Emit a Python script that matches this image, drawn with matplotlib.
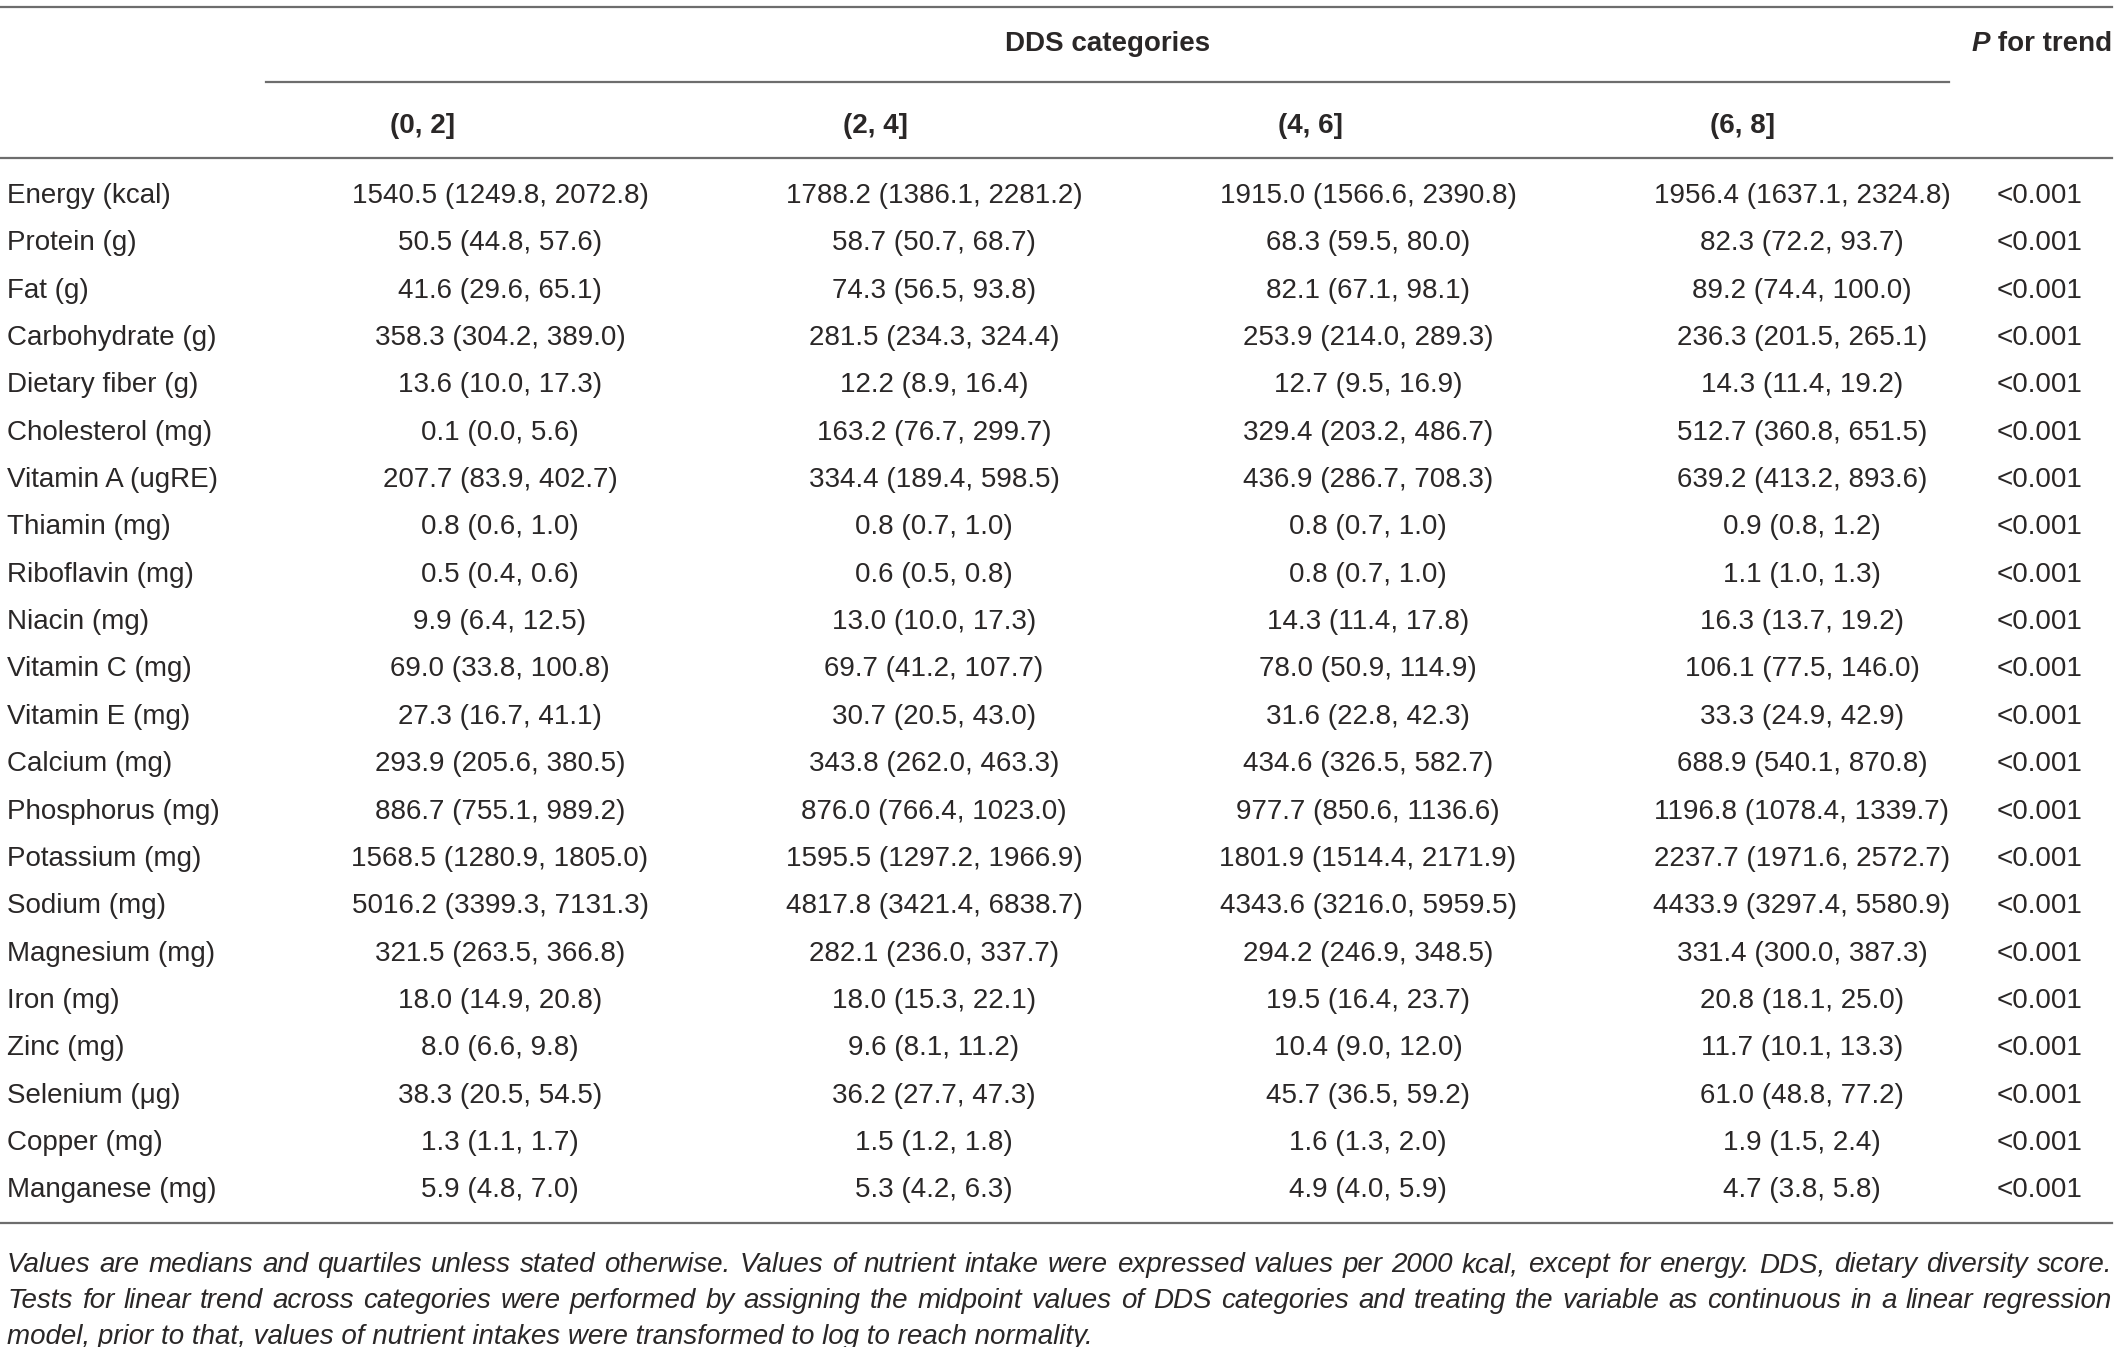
import matplotlib
matplotlib.use("Agg")
import matplotlib.pyplot as plt

plt.rcParams['font.family'] = ['Liberation Sans', 'DejaVu Sans']

nutrients = ["Energy (kcal)", "Protein (g)", "Fat (g)", "Carbohydrate (g)", "Dietary fiber (g)",
             "Cholesterol (mg)", "Vitamin A (ugRE)", "Thiamin (mg)", "Riboflavin (mg)", "Niacin (mg)",
             "Vitamin C (mg)", "Vitamin E (mg)", "Calcium (mg)", "Phosphorus (mg)", "Potassium (mg)",
             "Sodium (mg)", "Magnesium (mg)", "Iron (mg)", "Zinc (mg)", "Selenium (\u03bcg)",
             "Copper (mg)", "Manganese (mg)"]

categories = ["(0, 2]", "(2, 4]", "(4, 6]", "(6, 8]"]

dds_0_2 = ["1540.5 (1249.8, 2072.8)", "50.5 (44.8, 57.6)", "41.6 (29.6, 65.1)", "358.3 (304.2, 389.0)",
           "13.6 (10.0, 17.3)", "0.1 (0.0, 5.6)", "207.7 (83.9, 402.7)", "0.8 (0.6, 1.0)",
           "0.5 (0.4, 0.6)", "9.9 (6.4, 12.5)", "69.0 (33.8, 100.8)", "27.3 (16.7, 41.1)",
           "293.9 (205.6, 380.5)", "886.7 (755.1, 989.2)", "1568.5 (1280.9, 1805.0)",
           "5016.2 (3399.3, 7131.3)", "321.5 (263.5, 366.8)", "18.0 (14.9, 20.8)", "8.0 (6.6, 9.8)",
           "38.3 (20.5, 54.5)", "1.3 (1.1, 1.7)", "5.9 (4.8, 7.0)"]
dds_2_4 = ["1788.2 (1386.1, 2281.2)", "58.7 (50.7, 68.7)", "74.3 (56.5, 93.8)", "281.5 (234.3, 324.4)",
           "12.2 (8.9, 16.4)", "163.2 (76.7, 299.7)", "334.4 (189.4, 598.5)", "0.8 (0.7, 1.0)",
           "0.6 (0.5, 0.8)", "13.0 (10.0, 17.3)", "69.7 (41.2, 107.7)", "30.7 (20.5, 43.0)",
           "343.8 (262.0, 463.3)", "876.0 (766.4, 1023.0)", "1595.5 (1297.2, 1966.9)",
           "4817.8 (3421.4, 6838.7)", "282.1 (236.0, 337.7)", "18.0 (15.3, 22.1)", "9.6 (8.1, 11.2)",
           "36.2 (27.7, 47.3)", "1.5 (1.2, 1.8)", "5.3 (4.2, 6.3)"]
dds_4_6 = ["1915.0 (1566.6, 2390.8)", "68.3 (59.5, 80.0)", "82.1 (67.1, 98.1)", "253.9 (214.0, 289.3)",
           "12.7 (9.5, 16.9)", "329.4 (203.2, 486.7)", "436.9 (286.7, 708.3)", "0.8 (0.7, 1.0)",
           "0.8 (0.7, 1.0)", "14.3 (11.4, 17.8)", "78.0 (50.9, 114.9)", "31.6 (22.8, 42.3)",
           "434.6 (326.5, 582.7)", "977.7 (850.6, 1136.6)", "1801.9 (1514.4, 2171.9)",
           "4343.6 (3216.0, 5959.5)", "294.2 (246.9, 348.5)", "19.5 (16.4, 23.7)", "10.4 (9.0, 12.0)",
           "45.7 (36.5, 59.2)", "1.6 (1.3, 2.0)", "4.9 (4.0, 5.9)"]
dds_6_8 = ["1956.4 (1637.1, 2324.8)", "82.3 (72.2, 93.7)", "89.2 (74.4, 100.0)", "236.3 (201.5, 265.1)",
           "14.3 (11.4, 19.2)", "512.7 (360.8, 651.5)", "639.2 (413.2, 893.6)", "0.9 (0.8, 1.2)",
           "1.1 (1.0, 1.3)", "16.3 (13.7, 19.2)", "106.1 (77.5, 146.0)", "33.3 (24.9, 42.9)",
           "688.9 (540.1, 870.8)", "1196.8 (1078.4, 1339.7)", "2237.7 (1971.6, 2572.7)",
           "4433.9 (3297.4, 5580.9)", "331.4 (300.0, 387.3)", "20.8 (18.1, 25.0)", "11.7 (10.1, 13.3)",
           "61.0 (48.8, 77.2)", "1.9 (1.5, 2.4)", "4.7 (3.8, 5.8)"]
p_trend = ["<0.001"] * 22

footnote = [
    "Values are medians and quartiles unless stated otherwise. Values of nutrient intake were expressed values per 2000 kcal, except for energy. DDS, dietary diversity score.",
    "Tests for linear trend across categories were performed by assigning the midpoint values of DDS categories and treating the variable as continuous in a linear regression",
    "model, prior to that, values of nutrient intakes were transformed to log to reach normality.",
]

W, H = 2118, 1347
fig = plt.figure(figsize=(W / 100, H / 100), dpi=100)
ax = fig.add_axes([0, 0, 1, 1])
ax.set_xlim(0, W)
ax.set_ylim(H, 0)
ax.axis('off')

txt = '#2a2727'
line_c = '#6d6d6d'
fs = 20

# rules
ax.plot([0, 2112], [7, 7], color=line_c, lw=1.6)
ax.plot([266, 1949], [82, 82], color=line_c, lw=1.6)
ax.plot([0, 2112], [158, 158], color=line_c, lw=1.6)
ax.plot([0, 2112], [1223, 1223], color=line_c, lw=1.6)

# header
ax.text(1108, 44, "DDS categories", ha='center', va='center', fontsize=fs, fontweight='bold', color=txt)
fig.canvas.draw()
r = fig.canvas.get_renderer()
t2 = ax.text(2112, 44, " for trend", ha='right', va='center', fontsize=fs, fontweight='bold', color=txt)
bb = t2.get_window_extent(renderer=r)
ax.text(W * bb.x0 / fig.bbox.width, 44, "P", ha='right', va='center', fontsize=fs,
        fontweight='bold', fontstyle='italic', color=txt)

head_x = [423, 875, 1310, 1743]
for x, c in zip(head_x, categories):
    ax.text(x, 126, c, ha='center', va='center', fontsize=fs, fontweight='bold', color=txt)

# body
col_x = [500, 934, 1368, 1802]
cols = [dds_0_2, dds_2_4, dds_4_6, dds_6_8]
y0, dy = 196, 47.35
for i, name in enumerate(nutrients):
    y = y0 + i * dy
    ax.text(7, y, name, ha='left', va='center', fontsize=fs, color=txt)
    for x, col in zip(col_x, cols):
        ax.text(x, y, col[i], ha='center', va='center', fontsize=fs, color=txt)
    ax.text(2040, y, p_trend[i], ha='center', va='center', fontsize=fs, color=txt)

# footnote, justified like the source
foot_y = [1265, 1301, 1337]
left, right = 7, 2112
for k, (line, y) in enumerate(zip(footnote, foot_y)):
    if k == len(footnote) - 1:
        ax.text(left, y, line, ha='left', va='center', fontsize=fs, fontstyle='italic', color=txt)
        continue
    words = line.split(' ')
    objs = [ax.text(0, y, w, ha='left', va='center', fontsize=fs, fontstyle='italic', color=txt)
            for w in words]
    widths = [o.get_window_extent(renderer=r).width * W / fig.bbox.width for o in objs]
    gap = (right - left - sum(widths)) / (len(words) - 1)
    x = left
    for o, w in zip(objs, widths):
        o.set_x(x)
        x += w + gap

fig.savefig('out.png', dpi=100)
